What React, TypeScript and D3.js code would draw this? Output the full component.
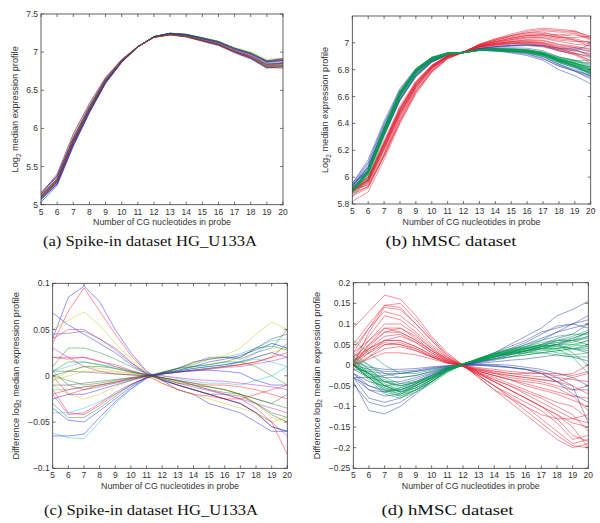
import React from 'react';
import * as d3 from 'd3';

// ---------- data ----------
const cgCounts = [5, 6, 7, 8, 9, 10, 11, 12, 13, 14, 15, 16, 17, 18, 19, 20];

// mean profiles (log2 median expression)
const meanSpike = [5.1, 5.32, 5.83, 6.25, 6.62, 6.88, 7.07, 7.2, 7.24, 7.22, 7.17, 7.12, 7.03, 6.96, 6.85, 6.87];
const meanHmsc = [5.91, 6.02, 6.3, 6.56, 6.74, 6.85, 6.91, 6.93, 6.96, 6.97, 6.975, 6.975, 6.96, 6.92, 6.89, 6.85];

// differences, spike-in (c)
const spikeDiffs: number[][] = [
  [0.04, 0.085, 0.097, 0.08, 0.05, 0.025, 0.005, -0.005, -0.015, -0.02, -0.03, -0.035, -0.04, -0.05, -0.06, -0.06],
  [0.005, 0.015, 0.015, 0.012, 0.008, 0.004, 0.001, -0.004, -0.01, -0.015, -0.02, -0.025, -0.03, -0.04, -0.055, -0.06],
  [0.035, 0.07, 0.095, 0.07, 0.045, 0.022, 0.004, -0.005, -0.01, -0.015, -0.02, -0.025, -0.03, -0.04, -0.05, -0.085],
  [-0.062, -0.067, -0.068, -0.05, -0.03, -0.015, -0.002, 0.004, 0.008, 0.012, 0.018, 0.02, 0.024, 0.03, 0.038, 0.04],
  [0.04, 0.05, 0.05, 0.04, 0.03, 0.015, 0.002, -0.003, -0.008, -0.012, -0.016, -0.02, -0.025, -0.03, -0.035, -0.04],
  [0.05, 0.06, 0.069, 0.055, 0.035, 0.018, 0.003, -0.008, -0.015, -0.02, -0.025, -0.03, -0.035, -0.04, -0.05, -0.045],
  [0.045, 0.046, 0.048, 0.04, 0.028, 0.014, 0.003, -0.004, -0.01, -0.015, -0.02, -0.02, -0.022, -0.03, -0.042, -0.05],
  [0.068, 0.055, 0.045, 0.035, 0.025, 0.012, 0.002, -0.005, -0.01, -0.015, -0.02, -0.025, -0.03, -0.04, -0.055, -0.06],
  [0.01, 0.03, 0.03, 0.025, 0.018, 0.01, 0.002, -0.003, -0.008, -0.01, -0.012, -0.015, -0.02, -0.025, -0.03, -0.035],
  [0.02, 0.018, 0.02, 0.015, 0.012, 0.006, 0.001, -0.002, -0.005, -0.008, -0.01, -0.01, -0.012, -0.015, -0.02, -0.025],
  [0.005, 0.01, 0.015, 0.012, 0.01, 0.005, 0.001, 0.0, -0.003, -0.006, -0.008, -0.008, -0.01, -0.005, 0.0, 0.01],
  [0.03, 0.02, 0.01, 0.005, 0.002, 0.001, 0.0, 0.0, -0.002, -0.004, -0.005, -0.006, -0.008, -0.01, -0.012, -0.015],
  [-0.005, 0.0, 0.005, 0.005, 0.004, 0.002, 0.0, 0.002, 0.004, 0.006, 0.008, 0.01, 0.012, 0.02, 0.025, 0.03],
  [0.005, -0.01, -0.015, -0.012, -0.008, -0.004, -0.001, 0.003, 0.008, 0.014, 0.02, 0.02, 0.018, 0.025, 0.03, 0.05],
  [-0.065, -0.065, -0.063, -0.045, -0.028, -0.014, -0.003, 0.003, 0.008, 0.01, 0.015, 0.018, 0.022, 0.028, 0.035, 0.03],
  [-0.03, -0.045, -0.045, -0.035, -0.022, -0.01, -0.002, 0.003, 0.006, 0.01, 0.012, 0.015, 0.02, 0.03, 0.032, 0.028],
  [-0.015, -0.04, -0.042, -0.032, -0.02, -0.01, -0.002, 0.002, 0.004, 0.006, 0.008, 0.01, 0.012, 0.015, 0.02, 0.025],
  [-0.04, -0.04, -0.035, -0.028, -0.02, -0.01, -0.001, 0.002, 0.005, 0.008, 0.01, 0.012, 0.015, 0.018, 0.015, 0.01],
  [-0.02, -0.042, -0.04, -0.03, -0.018, -0.009, -0.002, 0.002, 0.004, 0.005, 0.007, 0.009, 0.01, 0.013, 0.016, 0.02],
  [-0.01, -0.02, -0.025, -0.02, -0.012, -0.005, -0.001, 0.003, 0.008, 0.012, 0.018, 0.022, 0.03, 0.045, 0.058, 0.05],
  [-0.01, -0.01, -0.008, -0.006, -0.004, -0.002, 0.0, 0.004, 0.008, 0.015, 0.018, 0.02, 0.02, 0.03, 0.04, 0.045],
  [-0.035, -0.048, -0.05, -0.038, -0.025, -0.012, -0.002, 0.003, 0.005, 0.008, 0.01, 0.012, 0.015, 0.02, 0.025, 0.02],
  [0.0, -0.005, -0.01, -0.008, -0.005, -0.002, 0.0, 0.003, 0.006, 0.01, 0.012, 0.015, 0.015, 0.01, 0.0, -0.01],
  [0.0, -0.02, -0.015, -0.01, -0.007, -0.003, 0.0, 0.002, 0.004, 0.006, 0.008, 0.01, 0.012, 0.015, 0.02, 0.035],
  [-0.015, -0.015, -0.012, -0.01, -0.006, -0.003, 0.0, 0.002, 0.004, 0.006, 0.008, 0.01, 0.015, 0.025, 0.035, 0.03],
  [0.02, 0.02, 0.02, 0.016, 0.01, 0.005, 0.001, -0.002, -0.006, -0.01, -0.015, -0.02, -0.025, -0.035, -0.05, -0.065],
  [-0.005, 0.005, 0.01, 0.008, 0.005, 0.003, 0.0, -0.003, -0.007, -0.01, -0.012, -0.015, -0.02, -0.03, -0.045, -0.05],
  [0.005, 0.005, 0.004, 0.003, 0.002, 0.001, 0.0, -0.002, -0.005, -0.008, -0.012, -0.015, -0.02, -0.025, -0.03, -0.02],
  [-0.025, -0.02, -0.02, -0.015, -0.01, -0.005, 0.0, 0.002, 0.004, 0.006, 0.006, 0.005, 0.003, -0.005, -0.01, -0.01],
  [0.0, 0.005, 0.01, 0.01, 0.008, 0.004, 0.001, -0.002, -0.005, -0.01, -0.015, -0.018, -0.02, -0.03, -0.04, -0.045],
  [-0.02, -0.015, -0.012, -0.01, -0.007, -0.003, 0.0, -0.008, -0.015, -0.02, -0.022, -0.025, -0.025, -0.02, -0.015, -0.01],
];

// differences, hMSC (d)
const hmscBlueDiffs: number[][] = [
  [-0.04, -0.11, -0.118, -0.1, -0.07, -0.04, -0.015, 0.0, 0.015, 0.03, 0.05, 0.07, 0.09, 0.12, 0.135, 0.155],
  [-0.03, -0.08, -0.09, -0.08, -0.06, -0.035, -0.012, 0.0, 0.012, 0.025, 0.04, 0.055, 0.075, 0.095, 0.1, 0.11],
  [-0.02, -0.06, -0.075, -0.07, -0.05, -0.03, -0.01, 0.0, 0.01, 0.02, 0.03, 0.045, 0.06, 0.08, 0.1, 0.12],
  [-0.03, -0.05, -0.06, -0.06, -0.045, -0.025, -0.008, 0.0, 0.008, 0.018, 0.03, 0.04, 0.05, 0.065, 0.075, 0.1],
  [-0.02, -0.04, -0.05, -0.045, -0.035, -0.02, -0.007, 0.0, 0.007, 0.015, 0.025, 0.035, 0.045, 0.06, 0.06, 0.07],
  [-0.01, -0.03, -0.04, -0.04, -0.03, -0.018, -0.006, 0.0, 0.006, 0.012, 0.02, 0.03, 0.04, 0.05, 0.04, 0.03],
  [0.0, -0.02, -0.03, -0.03, -0.025, -0.015, -0.005, 0.0, 0.004, 0.008, 0.012, 0.015, 0.02, 0.025, 0.02, 0.01],
  [-0.03, -0.03, -0.025, -0.02, -0.015, -0.01, -0.003, 0.0, 0.002, 0.002, 0.0, -0.005, -0.01, -0.02, -0.03, -0.05],
  [-0.01, -0.015, -0.02, -0.02, -0.015, -0.008, -0.003, 0.0, 0.001, 0.0, -0.005, -0.01, -0.02, -0.04, -0.07, -0.09],
  [-0.045, -0.09, -0.1, -0.09, -0.065, -0.04, -0.012, 0.0, 0.015, 0.03, 0.045, 0.06, 0.08, 0.09, 0.1, 0.09],
  [0.0, -0.01, -0.015, -0.015, -0.012, -0.006, -0.002, 0.0, 0.0, -0.002, -0.005, -0.01, -0.02, -0.04, -0.06, -0.06],
  [-0.02, -0.05, -0.065, -0.055, -0.04, -0.022, -0.007, 0.0, 0.008, 0.015, 0.025, 0.035, 0.045, 0.05, 0.065, 0.08],
  [0.01, -0.005, -0.01, -0.01, -0.008, -0.004, -0.001, 0.0, 0.0, -0.003, -0.006, -0.01, -0.015, -0.03, -0.05, -0.14],
  [-0.03, -0.06, -0.065, -0.06, -0.045, -0.025, -0.008, 0.0, 0.01, 0.02, 0.035, 0.05, 0.065, 0.08, 0.09, 0.1],
];

const hmscRedDiffs: number[][] = [
  [0.09, 0.13, 0.17, 0.16, 0.12, 0.07, 0.03, 0.0, -0.03, -0.06, -0.09, -0.12, -0.15, -0.18, -0.2, -0.19],
  [0.05, 0.1, 0.145, 0.14, 0.1, 0.06, 0.025, 0.0, -0.025, -0.05, -0.08, -0.11, -0.14, -0.17, -0.195, -0.2],
  [0.03, 0.09, 0.145, 0.15, 0.11, 0.065, 0.025, 0.0, -0.03, -0.06, -0.08, -0.1, -0.13, -0.16, -0.19, -0.18],
  [0.04, 0.09, 0.13, 0.12, 0.09, 0.05, 0.02, -0.002, -0.025, -0.05, -0.07, -0.09, -0.11, -0.14, -0.18, -0.17],
  [0.02, 0.07, 0.12, 0.11, 0.08, 0.045, 0.018, -0.003, -0.022, -0.04, -0.06, -0.08, -0.1, -0.12, -0.15, -0.2],
  [0.01, 0.06, 0.1, 0.1, 0.075, 0.04, 0.015, -0.002, -0.02, -0.035, -0.05, -0.065, -0.08, -0.1, -0.12, -0.16],
  [0.0, 0.05, 0.09, 0.09, 0.065, 0.035, 0.012, -0.002, -0.018, -0.03, -0.045, -0.06, -0.075, -0.09, -0.1, -0.13],
  [0.01, 0.045, 0.08, 0.08, 0.06, 0.035, 0.012, -0.001, -0.015, -0.025, -0.035, -0.05, -0.06, -0.07, -0.085, -0.1],
  [0.0, 0.04, 0.07, 0.075, 0.055, 0.03, 0.01, -0.002, -0.015, -0.025, -0.035, -0.045, -0.055, -0.065, -0.075, -0.08],
  [0.0, 0.03, 0.06, 0.06, 0.045, 0.025, 0.008, -0.002, -0.012, -0.02, -0.03, -0.035, -0.04, -0.05, -0.06, -0.05],
  [0.01, 0.03, 0.05, 0.05, 0.04, 0.022, 0.008, -0.001, -0.01, -0.018, -0.025, -0.03, -0.035, -0.04, -0.05, -0.07],
  [0.0, 0.02, 0.04, 0.045, 0.035, 0.02, 0.006, -0.001, -0.008, -0.014, -0.02, -0.025, -0.028, -0.03, -0.035, -0.04],
  [0.0, 0.015, 0.03, 0.03, 0.025, 0.015, 0.005, 0.0, -0.006, -0.01, -0.015, -0.018, -0.02, -0.02, -0.025, -0.015],
  [0.03, 0.06, 0.09, 0.08, 0.06, 0.035, 0.015, 0.0, -0.018, -0.035, -0.05, -0.07, -0.09, -0.11, -0.13, -0.14],
  [0.02, 0.04, 0.06, 0.07, 0.055, 0.03, 0.01, -0.003, -0.02, -0.04, -0.06, -0.08, -0.1, -0.12, -0.14, -0.15],
  [0.0, 0.08, 0.14, 0.135, 0.1, 0.06, 0.02, -0.002, -0.025, -0.05, -0.075, -0.1, -0.12, -0.13, -0.13, -0.12],
  [0.01, 0.04, 0.06, 0.06, 0.045, 0.025, 0.008, -0.002, -0.015, -0.025, -0.035, -0.04, -0.045, -0.055, -0.075, -0.11],
  [-0.01, 0.02, 0.05, 0.055, 0.04, 0.02, 0.005, -0.002, -0.012, -0.02, -0.025, -0.03, -0.035, -0.04, -0.03, -0.02],
  [0.02, 0.05, 0.08, 0.09, 0.07, 0.04, 0.015, 0.0, -0.02, -0.04, -0.06, -0.08, -0.1, -0.13, -0.17, -0.185],
  [0.01, 0.035, 0.055, 0.05, 0.035, 0.02, 0.005, -0.003, -0.01, -0.015, -0.02, -0.02, -0.02, -0.025, -0.02, 0.0],
];

const hmscGreenDiffs: number[][] = [
  [0.0, -0.03, -0.06, -0.075, -0.06, -0.04, -0.015, 0.002, 0.015, 0.025, 0.035, 0.04, 0.045, 0.05, 0.055, 0.07],
  [0.0, -0.035, -0.07, -0.08, -0.065, -0.045, -0.018, 0.002, 0.017, 0.03, 0.04, 0.045, 0.05, 0.055, 0.06, 0.08],
  [0.01, -0.02, -0.05, -0.065, -0.055, -0.035, -0.012, 0.003, 0.015, 0.025, 0.03, 0.035, 0.04, 0.04, 0.045, 0.06],
  [0.005, -0.025, -0.055, -0.07, -0.06, -0.04, -0.015, 0.002, 0.015, 0.028, 0.036, 0.042, 0.048, 0.045, 0.04, 0.05],
  [0.0, -0.02, -0.045, -0.06, -0.05, -0.032, -0.01, 0.003, 0.014, 0.022, 0.03, 0.035, 0.04, 0.03, 0.025, 0.03],
  [0.02, -0.01, -0.04, -0.055, -0.045, -0.03, -0.01, 0.003, 0.012, 0.02, 0.028, 0.033, 0.04, 0.045, 0.04, 0.035],
  [0.03, 0.0, -0.03, -0.045, -0.04, -0.025, -0.008, 0.004, 0.012, 0.02, 0.026, 0.03, 0.035, 0.04, 0.05, 0.06],
  [0.0, -0.03, -0.06, -0.07, -0.055, -0.035, -0.012, 0.003, 0.016, 0.028, 0.038, 0.05, 0.06, 0.07, 0.075, 0.075],
  [0.01, -0.015, -0.04, -0.05, -0.04, -0.025, -0.008, 0.003, 0.012, 0.02, 0.027, 0.03, 0.03, 0.025, 0.02, 0.02],
  [0.0, -0.025, -0.05, -0.065, -0.05, -0.03, -0.01, 0.003, 0.014, 0.025, 0.033, 0.04, 0.05, 0.06, 0.065, 0.08],
  [0.02, 0.0, -0.02, -0.03, -0.025, -0.015, -0.005, 0.003, 0.01, 0.015, 0.02, 0.025, 0.03, 0.035, 0.04, 0.045],
  [0.0, -0.03, -0.065, -0.075, -0.06, -0.04, -0.014, 0.002, 0.016, 0.028, 0.038, 0.045, 0.055, 0.06, 0.07, 0.085],
  [0.06, 0.03, 0.0, -0.02, -0.02, -0.012, -0.004, 0.003, 0.01, 0.015, 0.02, 0.025, 0.03, 0.035, 0.04, 0.04],
  [0.01, -0.02, -0.05, -0.06, -0.048, -0.03, -0.01, 0.003, 0.014, 0.024, 0.032, 0.038, 0.045, 0.05, 0.03, 0.0],
  [0.0, -0.02, -0.04, -0.05, -0.042, -0.028, -0.01, 0.003, 0.013, 0.022, 0.03, 0.036, 0.042, 0.04, 0.02, -0.02],
  [0.015, -0.01, -0.035, -0.05, -0.042, -0.027, -0.009, 0.003, 0.012, 0.022, 0.028, 0.034, 0.04, 0.05, 0.06, 0.05],
  [0.0, -0.02, -0.05, -0.065, -0.055, -0.035, -0.012, 0.003, 0.015, 0.025, 0.032, 0.04, 0.045, 0.05, 0.05, 0.045],
  [0.0, -0.03, -0.055, -0.065, -0.05, -0.032, -0.011, 0.003, 0.015, 0.027, 0.035, 0.042, 0.048, 0.055, 0.06, 0.065],
];

const xTicks = cgCounts;
const ticksA = [5, 5.5, 6, 6.5, 7, 7.5];
const ticksB = [5.8, 6, 6.2, 6.4, 6.6, 6.8, 7];
const ticksC = [-0.1, -0.05, 0, 0.05, 0.1];
const ticksD = [-0.25, -0.2, -0.15, -0.1, -0.05, 0, 0.05, 0.1, 0.15, 0.2];

const matlabColors = ['#0000ff', '#008000', '#ff0000', '#00bfbf', '#bf00bf', '#bfbf00', '#404040'];
const RED = '#e3263a';
const BLUE = '#2c46a8';
const GREEN = '#00a04e';

type Series = { values: number[]; color: string };

const fmt = (v: number) => {
  const s = String(+v.toFixed(3));
  return s.startsWith('-') ? '\u2212' + s.slice(1) : s;
};

const SANS = '"Liberation Sans", Arial, Helvetica, sans-serif';
const SERIF = '"Liberation Serif", "Times New Roman", serif';

function Panel(props: {
  id: string;
  box: [number, number, number, number];
  yDomain: [number, number];
  yTicks: number[];
  yLabelPre: string;
  yLabelX: number;
  xTitleY: number;
  series: Series[];
  opacity: number;
  caption: string;
  captionX: number;
  captionY: number;
  captionW: number;
}) {
  const [x0, x1, y0, y1] = props.box;
  const x = d3.scaleLinear().domain([5, 20]).range([x0, x1]);
  const y = d3.scaleLinear().domain(props.yDomain).range([y1, y0]);
  const line = d3
    .line<number>()
    .x((_, i) => x(cgCounts[i]))
    .y((v) => y(v));
  const tl = 3;
  const axisColor = '#3a3a3a';
  const cy = (y0 + y1) / 2;
  return (
    <g>
      <defs>
        <clipPath id={'clip-' + props.id}>
          <rect x={x0} y={y0} width={x1 - x0} height={y1 - y0} />
        </clipPath>
      </defs>
      <rect x={x0} y={y0} width={x1 - x0} height={y1 - y0} fill="#fff" />
      <g clipPath={`url(#clip-${props.id})`}>
        {props.series.map((s, i) => (
          <path key={i} d={line(s.values) || ''} fill="none" stroke={s.color} strokeWidth={0.6} strokeOpacity={props.opacity} />
        ))}
      </g>
      <rect x={x0} y={y0} width={x1 - x0} height={y1 - y0} fill="none" stroke={axisColor} strokeWidth={0.8} />
      {xTicks.map((t) => (
        <g key={'x' + t}>
          <line x1={x(t)} x2={x(t)} y1={y1} y2={y1 - tl} stroke={axisColor} strokeWidth={0.7} />
          <line x1={x(t)} x2={x(t)} y1={y0} y2={y0 + tl} stroke={axisColor} strokeWidth={0.7} />
          <text x={x(t)} y={y1 + 10} textAnchor="middle" fontFamily={SANS} fontSize={8.5} fill="#333">
            {t}
          </text>
        </g>
      ))}
      {props.yTicks.map((t) => (
        <g key={'y' + t}>
          <line x1={x0} x2={x0 + tl} y1={y(t)} y2={y(t)} stroke={axisColor} strokeWidth={0.7} />
          <line x1={x1} x2={x1 - tl} y1={y(t)} y2={y(t)} stroke={axisColor} strokeWidth={0.7} />
          <text x={x0 - 3} y={y(t) + 3} textAnchor="end" fontFamily={SANS} fontSize={8.5} fill="#333">
            {fmt(t)}
          </text>
        </g>
      ))}
      <text x={(x0 + x1) / 2} y={props.xTitleY} textAnchor="middle" fontFamily={SANS} fontSize={8.8} fill="#333">
        Number of CG nucleotides in probe
      </text>
      <text
        transform={`translate(${props.yLabelX},${cy}) rotate(-90)`}
        textAnchor="middle"
        fontFamily={SANS}
        fontSize={9.2}
        fill="#333"
        dy="0.35em"
      >
        {props.yLabelPre}
        <tspan fontSize={6.5} dy={2.5}>2</tspan>
        <tspan dy={-2.5}> median expression profile</tspan>
      </text>
      <text
        x={props.captionX}
        y={props.captionY}
        textAnchor="middle"
        fontFamily={SERIF}
        fontSize={14.5}
        fill="#111"
        textLength={props.captionW}
        lengthAdjust="spacingAndGlyphs"
      >
        {props.caption}
      </text>
    </g>
  );
}

export default function App() {
  const seriesA: Series[] = spikeDiffs.map((d, i) => ({
    values: d.map((v, j) => meanSpike[j] + v),
    color: matlabColors[i % matlabColors.length],
  }));
  const seriesC: Series[] = spikeDiffs.map((d, i) => ({
    values: d,
    color: matlabColors[i % matlabColors.length],
  }));
  const groupsD: Series[] = [
    ...hmscBlueDiffs.map((d) => ({ values: d, color: BLUE })),
    ...hmscRedDiffs.map((d) => ({ values: d, color: RED })),
    ...hmscGreenDiffs.map((d) => ({ values: d, color: GREEN })),
  ];
  const groupsB: Series[] = groupsD.map((s) => ({
    values: s.values.map((v, j) => meanHmsc[j] - v),
    color: s.color,
  }));

  return (
    <svg width={600} height={523} style={{ position: 'absolute', left: 0, top: 0, background: '#fff' }}>
      <rect width={600} height={523} fill="#fff" />
      <Panel
        id="a"
        box={[41, 283, 14, 204.7]}
        yDomain={[5, 7.5]}
        yTicks={ticksA}
        yLabelPre="Log"
        yLabelX={15}
        xTitleY={225}
        series={seriesA}
        opacity={0.7}
        caption="(a) Spike-in dataset HG_U133A"
        captionX={150}
        captionY={246}
        captionW={214}
      />
      <Panel
        id="b"
        box={[352.3, 590.7, 16, 204]}
        yDomain={[5.8, 7.2]}
        yTicks={ticksB}
        yLabelPre="Log"
        yLabelX={325}
        xTitleY={224.5}
        series={groupsB}
        opacity={0.85}
        caption="(b) hMSC dataset"
        captionX={451}
        captionY={246}
        captionW={131}
      />
      <Panel
        id="c"
        box={[52.7, 287.3, 283.3, 468.3]}
        yDomain={[-0.1, 0.1]}
        yTicks={ticksC}
        yLabelPre="Difference log"
        yLabelX={15.7}
        xTitleY={489}
        series={seriesC}
        opacity={0.7}
        caption="(c) Spike-in dataset HG_U133A"
        captionX={151}
        captionY={515}
        captionW={214}
      />
      <Panel
        id="d"
        box={[353.3, 588.3, 282.7, 468.3]}
        yDomain={[-0.25, 0.2]}
        yTicks={ticksD}
        yLabelPre="Difference log"
        yLabelX={316.7}
        xTitleY={489}
        series={groupsD}
        opacity={0.85}
        caption="(d) hMSC dataset"
        captionX={447.5}
        captionY={515}
        captionW={132}
      />
    </svg>
  );
}
